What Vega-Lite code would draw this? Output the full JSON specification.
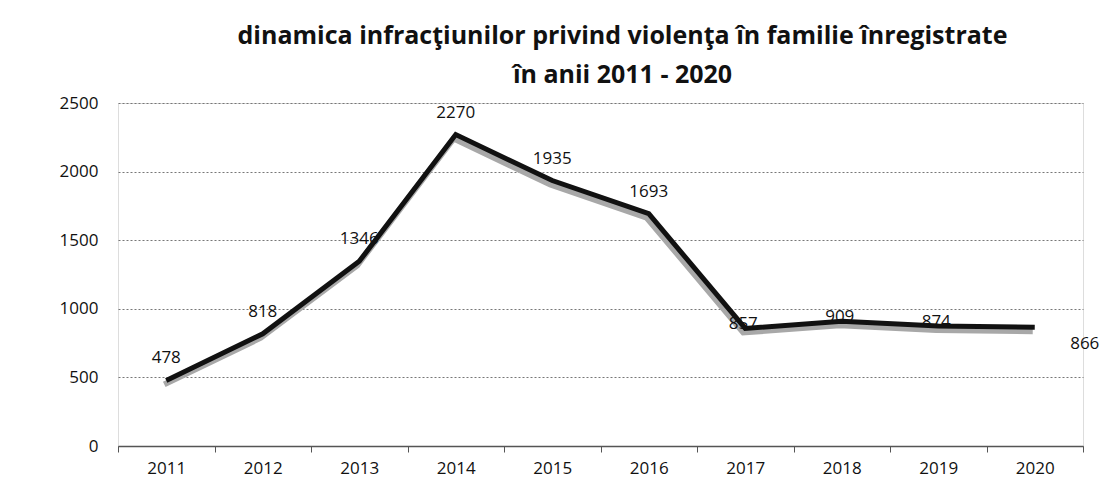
{
  "$schema": "https://vega.github.io/schema/vega-lite/v6.json",
  "autosize": {"type": "none"},
  "padding": {"left": 118, "top": 103, "right": 17, "bottom": 45},
  "width": 965,
  "height": 343,
  "background": "white",
  "title": {
    "text": ["dinamica infracţiunilor privind violenţa în familie înregistrate", "în anii 2011 - 2020"],
    "font": "Open Sans",
    "fontSize": 25,
    "fontWeight": "bold",
    "color": "#111",
    "anchor": "middle",
    "dx": 22,
    "dy": 4,
    "offset": 10,
    "lineHeight": 39
  },
  "data": {
    "values": [
      {"year": "2011", "value": 478},
      {"year": "2012", "value": 818},
      {"year": "2013", "value": 1346},
      {"year": "2014", "value": 2270},
      {"year": "2015", "value": 1935},
      {"year": "2016", "value": 1693},
      {"year": "2017", "value": 857},
      {"year": "2018", "value": 909},
      {"year": "2019", "value": 874},
      {"year": "2020", "value": 866}
    ]
  },
  "encoding": {
    "x": {
      "field": "year", "type": "ordinal", "title": null,
      "scale": {"type": "band", "paddingInner": 0, "paddingOuter": 0},
      "axis": {
        "labelAngle": 0, "labelFont": "Open Sans", "labelFontSize": 17, "labelColor": "#111",
        "tickBand": "extent", "tickSize": 6, "tickColor": "#555", "domainColor": "#555",
        "domainWidth": 1.5, "labelPadding": 8, "grid": false
      }
    },
    "y": {
      "field": "value", "type": "quantitative", "title": null,
      "scale": {"domain": [0, 2500], "nice": false},
      "axis": {
        "values": [0, 500, 1000, 1500, 2000, 2500], "format": "d",
        "labelFont": "Open Sans", "labelFontSize": 17, "labelColor": "#111",
        "domain": false, "ticks": false, "labelPadding": 20,
        "grid": true, "gridColor": "#777", "gridDash": [2, 2], "gridWidth": 1
      }
    }
  },
  "layer": [
    {"mark": {"type": "line", "color": "#a8a8a8", "strokeWidth": 6, "xOffset": -2, "yOffset": 4}},
    {"mark": {"type": "line", "color": "#111", "strokeWidth": 5}},
    {
      "transform": [{"filter": "datum.year <= '2016'"}],
      "mark": {"type": "text", "font": "Open Sans", "fontSize": 17, "color": "#111", "dy": -22},
      "encoding": {"text": {"field": "value", "type": "quantitative", "format": "d"}}
    },
    {
      "transform": [{"filter": "datum.year >= '2017' && datum.year <= '2019'"}],
      "mark": {"type": "text", "font": "Open Sans", "fontSize": 17, "color": "#111", "dy": -4, "dx": -2},
      "encoding": {"text": {"field": "value", "type": "quantitative", "format": "d"}}
    },
    {
      "transform": [{"filter": "datum.year == '2020'"}],
      "mark": {"type": "text", "font": "Open Sans", "fontSize": 17, "color": "#111", "dx": 50, "dy": 17},
      "encoding": {"text": {"field": "value", "type": "quantitative", "format": "d"}}
    }
  ]
}
